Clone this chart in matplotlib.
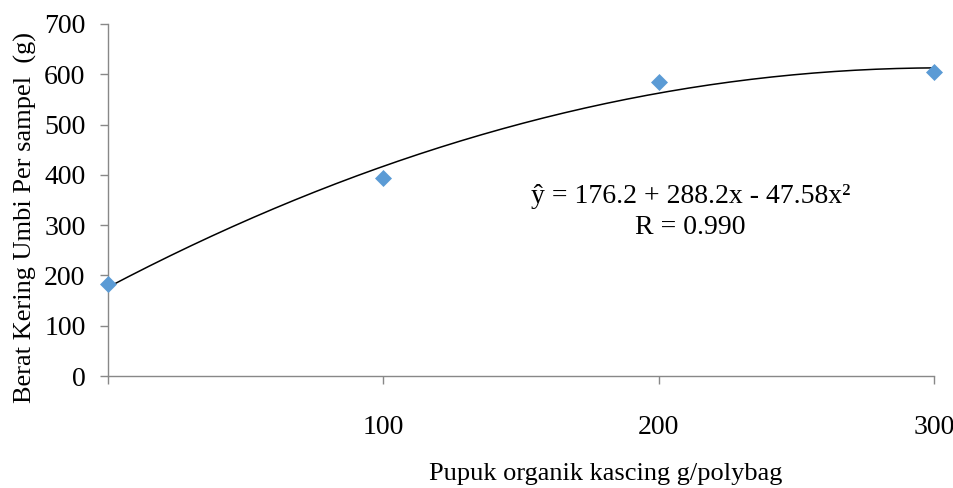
import matplotlib
matplotlib.use("Agg")
import matplotlib.pyplot as plt
import numpy as np

# data
dose = [0, 100, 200, 300]
berat = [183, 393, 585, 605]
# regression coefficients (x = dose / 100)
b0, b1, b2 = 176.2, 288.2, -47.58
r_value = 0.990

plt.rcParams['font.family'] = ['Liberation Serif', 'DejaVu Serif']

fig = plt.figure(figsize=(9.54, 4.88), dpi=100)
ax = fig.add_axes([0.113, 0.2295, 0.866, 0.7215])

xs = np.linspace(0, 3, 200)
ax.plot(xs * 100, b0 + b1 * xs + b2 * xs ** 2, color='black', lw=1.1, zorder=2)
ax.scatter(dose, berat, marker='D', s=75, color='#5B9BD5', zorder=3, linewidths=0, clip_on=False)

ax.set_xlim(0, 300)
ax.set_ylim(0, 700)
ax.set_xticks([0, 100, 200, 300])
ax.set_xticklabels(['', '100', '200', '300'])
ax.set_yticks(range(0, 701, 100))

for s in ['top', 'right']:
    ax.spines[s].set_visible(False)
for s in ['left', 'bottom']:
    ax.spines[s].set_color('#888888')
    ax.spines[s].set_linewidth(1.0)
ax.tick_params(axis='both', colors='#888888', labelcolor='black', labelsize=20, length=6, width=1.0)
ax.tick_params(axis='x', pad=22)
ax.tick_params(axis='y', pad=10)

ax.set_ylabel('Berat Kering Umbi Per sampel  (g)', fontsize=19)
ax.yaxis.set_label_coords(-0.086, 0.45)
ax.set_xlabel('Pupuk organik kascing g/polybag', fontsize=19)
ax.xaxis.set_label_coords(0.603, -0.247)

ax.text(0.705, 0.466, f'ŷ = {b0} + {b1}x - {abs(b2)}x²\nR = {r_value:.3f}',
        transform=ax.transAxes, ha='center', va='center', fontsize=20, linespacing=1.35)

fig.savefig('out.png', dpi=100)
